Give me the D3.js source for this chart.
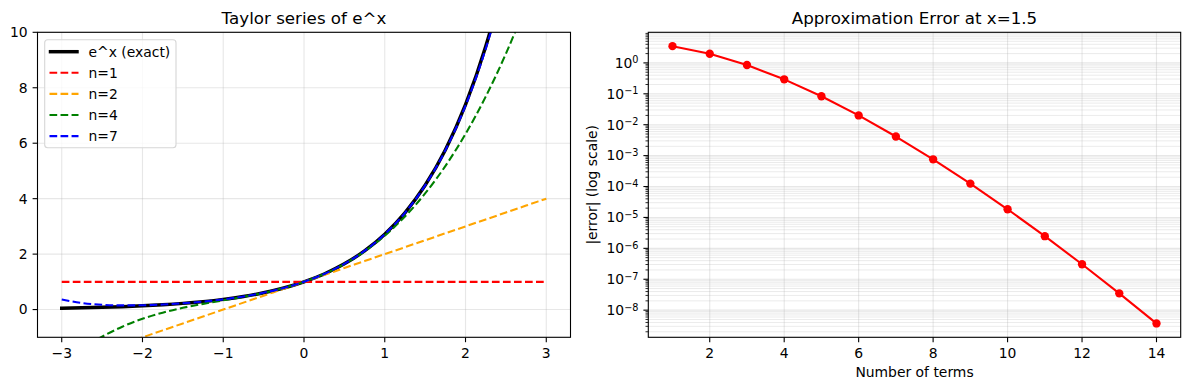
<!DOCTYPE html>
<html>
<head>
<meta charset="utf-8">
<script src="https://cdn.jsdelivr.net/npm/d3@7"></script>
<style>
  html, body { margin: 0; padding: 0; background: #fff; }
  svg { display: block; font-family: "DejaVu Sans", sans-serif; }
</style>
</head>
<body>
<div id="chart"></div>
<script>
// ---- data: Taylor approximations of e^x sampled every 0.25 ----
const xs = [-3, -2.75, -2.5, -2.25, -2, -1.75, -1.5, -1.25, -1, -0.75, -0.5, -0.25, 0,
  0.25, 0.5, 0.75, 1, 1.25, 1.5, 1.75, 2, 2.25, 2.5, 2.75, 3]
const expExact = [0.04979, 0.06393, 0.08208, 0.10540, 0.13534, 0.17377, 0.22313, 0.28650, 0.36788,
  0.47237, 0.60653, 0.77880, 1, 1.28403, 1.64872, 2.11700, 2.71828, 3.49034, 4.48169, 5.75460,
  7.38906, 9.48774, 12.18249, 15.64263, 20.08554]
const taylorN1 = [1, 1, 1, 1, 1, 1, 1, 1, 1, 1, 1, 1, 1, 1, 1, 1, 1, 1, 1, 1, 1, 1, 1, 1, 1]
const taylorN2 = [-2, -1.75, -1.5, -1.25, -1, -0.75, -0.5, -0.25, 0, 0.25, 0.5, 0.75, 1,
  1.25, 1.5, 1.75, 2, 2.25, 2.5, 2.75, 3, 3.25, 3.5, 3.75, 4]
const taylorN4 = [-2, -1.43490, -0.97917, -0.61719, -0.33333, -0.11198, 0.0625, 0.20573, 0.33333,
  0.46094, 0.60417, 0.77865, 1, 1.28385, 1.64583, 2.10156, 2.66667, 3.35677, 4.1875, 5.17448,
  6.33333, 7.67969, 9.22917, 10.99740, 13]
const taylorN7 = [0.3625, 0.23815, 0.17371, 0.15034, 0.15556, 0.18192, 0.22598, 0.28733, 0.36806,
  0.47239, 0.60653, 0.77880, 1, 1.28402, 1.64871, 2.11697, 2.71806, 3.48923, 4.47754, 5.74194,
  7.35556, 9.40830, 12.00965, 15.29173, 19.4125]

const seriesNames = ['e^x (exact)', 'n=1', 'n=2', 'n=4', 'n=7']
const seriesColors = ['#000000', '#ff0000', '#ffa500', '#008000', '#0000ff']

// ---- data: absolute error at x = 1.5 ----
const nTerms = [1, 2, 3, 4, 5, 6, 7, 8, 9, 10, 11, 12, 13, 14]
const absError = [3.48169, 1.98169, 0.85669, 0.29419, 0.083252, 0.019970, 0.0041500,
  7.5994e-4, 1.24303e-4, 1.8364e-5, 2.4728e-6, 3.0584e-7, 3.497e-8, 3.718e-9]

// ---- ticks ----
const leftXTicks = [-3, -2, -1, 0, 1, 2, 3]
const leftYTicks = [0, 2, 4, 6, 8, 10]
const rightXTicks = [2, 4, 6, 8, 10, 12, 14]
const rightYExps = [-8, -7, -6, -5, -4, -3, -2, -1, 0]

const width = 1189, height = 390
const gridColor = '#b0b0b0'
const fs = 13.9

const svg = d3.select('#chart').append('svg')
  .attr('width', width)
  .attr('height', height)

const yTop = 32.3, yBottom = 337.3

// ================= left panel =================
const L = { x0: 37.5, x1: 570.5 }
const xL = d3.scaleLinear().domain([-3.3, 3.3]).range([L.x0, L.x1])
const yL = d3.scaleLinear().domain([-1, 10]).range([yBottom, yTop])

const left = svg.append('g')

left.append('clipPath').attr('id', 'clipL')
  .append('rect')
  .attr('x', L.x0).attr('y', yTop)
  .attr('width', L.x1 - L.x0).attr('height', yBottom - yTop)

// grid
left.append('g').selectAll('line').data(leftXTicks).join('line')
  .attr('x1', d => xL(d)).attr('x2', d => xL(d))
  .attr('y1', yTop).attr('y2', yBottom)
  .attr('stroke', gridColor).attr('stroke-opacity', 0.3).attr('stroke-width', 1.1)
left.append('g').selectAll('line').data(leftYTicks).join('line')
  .attr('x1', L.x0).attr('x2', L.x1)
  .attr('y1', d => yL(d)).attr('y2', d => yL(d))
  .attr('stroke', gridColor).attr('stroke-opacity', 0.3).attr('stroke-width', 1.1)

const lineL = d3.line()
  .x((d, i) => xL(xs[i]))
  .y(d => yL(d))
  .curve(d3.curveMonotoneX)

const allSeries = [expExact, taylorN1, taylorN2, taylorN4, taylorN7]
const plot = left.append('g').attr('clip-path', 'url(#clipL)')
allSeries.forEach((s, k) => {
  plot.append('path')
    .attr('d', lineL(s))
    .attr('fill', 'none')
    .attr('stroke', seriesColors[k])
    .attr('stroke-width', k === 0 ? 3.47 : 2.08)
    .attr('stroke-linecap', k === 0 ? 'square' : 'butt')
    .attr('stroke-linejoin', 'round')
    .attr('stroke-dasharray', k === 0 ? null : '7.7,3.33')
})

// axes
const axL = left.append('g').attr('font-size', fs).attr('fill', '#000')
axL.selectAll('.xt').data(leftXTicks).join('g')
  .attr('transform', d => `translate(${xL(d)},${yBottom})`)
  .call(g => g.append('line').attr('y2', 4.9).attr('stroke', '#000').attr('stroke-width', 1.1))
  .call(g => g.append('text').attr('y', 9.8).attr('dy', '0.76em')
    .attr('text-anchor', 'middle').text(d => d < 0 ? '\u2212' + Math.abs(d) : d))
axL.selectAll('.yt').data(leftYTicks).join('g')
  .attr('transform', d => `translate(${L.x0},${yL(d)})`)
  .call(g => g.append('line').attr('x2', -4.9).attr('stroke', '#000').attr('stroke-width', 1.1))
  .call(g => g.append('text').attr('x', -9.8).attr('dy', '0.35em')
    .attr('text-anchor', 'end').text(d => d))

left.append('rect')
  .attr('x', L.x0).attr('y', yTop)
  .attr('width', L.x1 - L.x0).attr('height', yBottom - yTop)
  .attr('fill', 'none').attr('stroke', '#000').attr('stroke-width', 1.1)

left.append('text')
  .attr('x', (L.x0 + L.x1) / 2).attr('y', 24)
  .attr('text-anchor', 'middle').attr('font-size', 16.7)
  .text('Taylor series of e^x')

// legend
const lg = left.append('g')
lg.append('rect')
  .attr('x', 44.7).attr('y', 39.7).attr('width', 131.3).attr('height', 108)
  .attr('rx', 3).attr('fill', '#fff').attr('fill-opacity', 0.8)
  .attr('stroke', '#d6d6d6').attr('stroke-width', 1.1)
seriesNames.forEach((name, k) => {
  const yy = 51.7 + k * 21.1
  lg.append('line')
    .attr('x1', k === 0 ? 50.5 : 49.5).attr('x2', k === 0 ? 77 : 78.5)
    .attr('y1', yy).attr('y2', yy)
    .attr('stroke', seriesColors[k])
    .attr('stroke-width', k === 0 ? 3.47 : 2.08)
    .attr('stroke-linecap', k === 0 ? 'square' : 'butt')
    .attr('stroke-dasharray', k === 0 ? null : '7.7,3.33')
  lg.append('text')
    .attr('x', 88.5).attr('y', yy).attr('dy', '0.35em')
    .attr('font-size', fs)
    .text(name)
})

// ================= right panel =================
const R = { x0: 648.3, x1: 1180.7 }
const xR = d3.scaleLinear().domain([0.35, 14.65]).range([R.x0, R.x1])
const yR = d3.scaleLog().domain([Math.pow(10, -8.878), Math.pow(10, 0.99)]).range([yBottom, yTop])

const right = svg.append('g')
const minorVals = yR.ticks().filter(v => {
  const e = Math.log10(v)
  return Math.abs(e - Math.round(e)) > 1e-9
})
const majorVals = rightYExps.map(e => Math.pow(10, e))

right.append('g').selectAll('line').data(minorVals.concat(majorVals)).join('line')
  .attr('x1', R.x0).attr('x2', R.x1)
  .attr('y1', d => yR(d)).attr('y2', d => yR(d))
  .attr('stroke', gridColor).attr('stroke-opacity', 0.3)
  .attr('stroke-width', (d, i) => i >= minorVals.length ? 1.1 : 0.83)
right.append('g').selectAll('line').data(rightXTicks).join('line')
  .attr('x1', d => xR(d)).attr('x2', d => xR(d))
  .attr('y1', yTop).attr('y2', yBottom)
  .attr('stroke', gridColor).attr('stroke-opacity', 0.3).attr('stroke-width', 1.1)

const lineR = d3.line()
  .x((d, i) => xR(nTerms[i]))
  .y(d => yR(d))
right.append('path')
  .attr('d', lineR(absError))
  .attr('fill', 'none').attr('stroke', '#ff0000').attr('stroke-width', 2.08)
  .attr('stroke-linecap', 'square').attr('stroke-linejoin', 'round')
right.append('g').selectAll('circle').data(absError).join('circle')
  .attr('cx', (d, i) => xR(nTerms[i])).attr('cy', d => yR(d))
  .attr('r', 4.17).attr('fill', '#ff0000')

const axR = right.append('g').attr('font-size', fs)
axR.selectAll('.xt').data(rightXTicks).join('g')
  .attr('transform', d => `translate(${xR(d)},${yBottom})`)
  .call(g => g.append('line').attr('y2', 4.9).attr('stroke', '#000').attr('stroke-width', 1.1))
  .call(g => g.append('text').attr('y', 9.8).attr('dy', '0.76em')
    .attr('text-anchor', 'middle').text(d => d))
axR.selectAll('.ym').data(minorVals).join('line')
  .attr('x1', R.x0).attr('x2', R.x0 - 2.8)
  .attr('y1', d => yR(d)).attr('y2', d => yR(d))
  .attr('stroke', '#000').attr('stroke-width', 0.83)
axR.selectAll('.yt').data(rightYExps).join('g')
  .attr('transform', d => `translate(${R.x0},${yR(Math.pow(10, d))})`)
  .call(g => g.append('line').attr('x2', -4.9).attr('stroke', '#000').attr('stroke-width', 1.1))
  .call(g => {
    const t = g.append('text').attr('x', -9.8).attr('dy', '0.35em').attr('text-anchor', 'end')
    t.append('tspan').text('10')
    t.append('tspan').attr('dy', '-0.45em').attr('font-size', fs * 0.7)
      .text(d => d < 0 ? '\u2212' + Math.abs(d) : d)
  })

right.append('rect')
  .attr('x', R.x0).attr('y', yTop)
  .attr('width', R.x1 - R.x0).attr('height', yBottom - yTop)
  .attr('fill', 'none').attr('stroke', '#000').attr('stroke-width', 1.1)

right.append('text')
  .attr('x', (R.x0 + R.x1) / 2).attr('y', 24)
  .attr('text-anchor', 'middle').attr('font-size', 16.7)
  .text('Approximation Error at x=1.5')

right.append('text')
  .attr('x', (R.x0 + R.x1) / 2).attr('y', 377)
  .attr('text-anchor', 'middle').attr('font-size', fs)
  .text('Number of terms')

right.append('text')
  .attr('transform', `translate(596.5,${(yTop + yBottom) / 2}) rotate(-90)`)
  .attr('text-anchor', 'middle').attr('font-size', fs)
  .text('|error| (log scale)')
</script>
</body>
</html>
